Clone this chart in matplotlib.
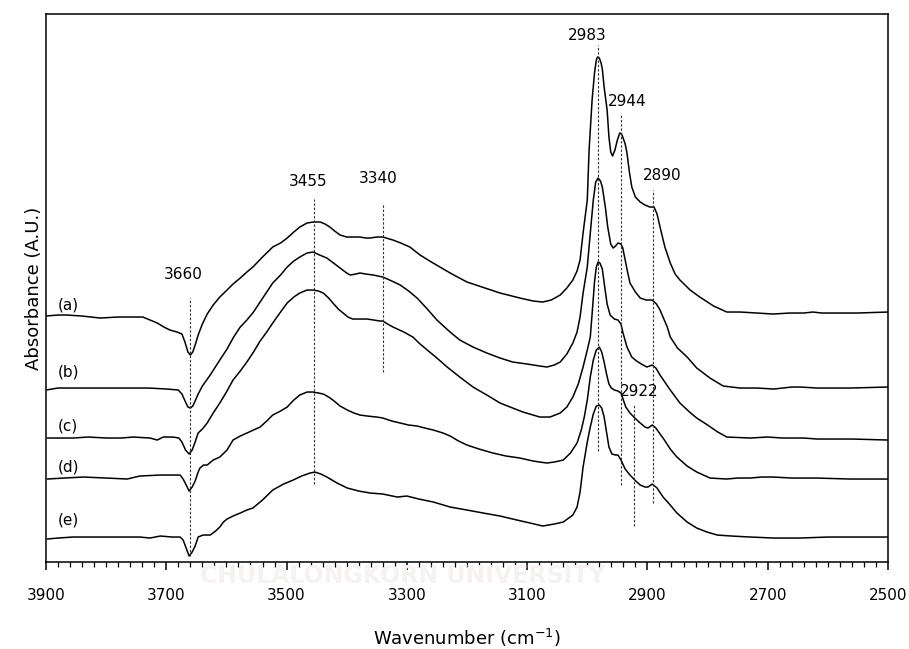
import matplotlib
matplotlib.use("Agg")
import matplotlib.pyplot as plt
from matplotlib.ticker import FixedLocator, MultipleLocator

# FTIR spectra (absorbance, arbitrary units, already offset for stacking)
wn_a = [3900, 3880, 3865, 3840, 3810, 3780, 3755, 3739, 3727, 3715, 3704, 3694, 3682, 3674,
        3669, 3664, 3660, 3656, 3652, 3647, 3640, 3632, 3622, 3611, 3599, 3589, 3577, 3566,
        3556, 3540, 3523, 3510, 3499, 3488, 3478, 3466, 3456, 3444, 3436, 3428, 3420, 3411,
        3400, 3390, 3378, 3368, 3361, 3350, 3340, 3323, 3310, 3295, 3278, 3262, 3245, 3225,
        3200, 3170, 3145, 3112, 3090, 3074, 3060, 3045, 3034, 3024, 3017, 3012, 3007, 3000,
        2997, 2992, 2988, 2985, 2983, 2980, 2977, 2975, 2972, 2967, 2964, 2961, 2958, 2954,
        2950, 2946, 2943, 2941, 2937, 2934, 2930, 2926, 2920, 2912, 2904, 2896, 2889, 2884,
        2879, 2871, 2862, 2854, 2846, 2829, 2813, 2790, 2768, 2746, 2718, 2691, 2663, 2640,
        2625, 2610, 2596, 2551, 2500]
abs_a = [2.46, 2.47, 2.47, 2.46, 2.44, 2.45, 2.45, 2.45, 2.42, 2.39, 2.35, 2.32, 2.30, 2.28,
         2.20, 2.10, 2.07, 2.10, 2.17, 2.27, 2.38, 2.48, 2.57, 2.65, 2.72, 2.78, 2.84, 2.90,
         2.95, 3.05, 3.15, 3.19, 3.24, 3.30, 3.35, 3.39, 3.40, 3.40, 3.38, 3.35, 3.31, 3.27,
         3.25, 3.25, 3.25, 3.24, 3.24, 3.25, 3.25, 3.22, 3.19, 3.15, 3.07, 3.01, 2.95, 2.88,
         2.80, 2.74, 2.69, 2.64, 2.61, 2.60, 2.62, 2.67, 2.74, 2.82, 2.91, 3.02, 3.29, 3.62,
         4.12, 4.62, 4.89, 5.02, 5.05, 5.04, 4.99, 4.93, 4.75, 4.52, 4.25, 4.10, 4.06, 4.12,
         4.22, 4.29, 4.28, 4.25, 4.18, 4.09, 3.90, 3.75, 3.65, 3.60, 3.57, 3.55, 3.55, 3.48,
         3.35, 3.15, 2.99, 2.88, 2.82, 2.72, 2.65, 2.56, 2.50, 2.50, 2.49, 2.48, 2.49, 2.49,
         2.50, 2.49, 2.49, 2.49, 2.50]

wn_b = [3900, 3880, 3860, 3840, 3810, 3780, 3755, 3730, 3699, 3680, 3674, 3668, 3664, 3660,
        3656, 3652, 3647, 3640, 3627, 3611, 3599, 3588, 3577, 3566, 3555, 3544, 3533, 3523,
        3510, 3499, 3488, 3478, 3466, 3456, 3445, 3433, 3422, 3411, 3400, 3394, 3385, 3378,
        3368, 3356, 3340, 3325, 3311, 3297, 3283, 3266, 3250, 3230, 3212, 3190, 3167, 3145,
        3124, 3100, 3079, 3067, 3055, 3045, 3034, 3024, 3017, 3012, 3007, 3000, 2995, 2990,
        2986, 2982, 2978, 2975, 2970, 2966, 2961, 2957, 2953, 2949, 2944, 2941, 2937, 2933,
        2929, 2920, 2912, 2902, 2892, 2885, 2879, 2872, 2867, 2862, 2850, 2834, 2818, 2796,
        2774, 2746, 2718, 2690, 2660, 2646, 2618, 2563, 2500]
abs_b = [1.72, 1.74, 1.74, 1.74, 1.74, 1.74, 1.74, 1.74, 1.73, 1.72, 1.68, 1.60, 1.55, 1.54,
         1.56, 1.61, 1.68, 1.76, 1.87, 2.02, 2.13, 2.25, 2.35, 2.42, 2.50, 2.60, 2.70, 2.79,
         2.87, 2.95, 3.01, 3.05, 3.09, 3.10, 3.07, 3.04, 2.99, 2.94, 2.89, 2.87, 2.88, 2.89,
         2.88, 2.87, 2.85, 2.81, 2.77, 2.71, 2.64, 2.53, 2.42, 2.31, 2.22, 2.15, 2.09, 2.04,
         2.00, 1.98, 1.96, 1.95, 1.97, 2.00, 2.08, 2.19, 2.30, 2.45, 2.69, 2.95, 3.29, 3.62,
         3.80, 3.84, 3.81, 3.75, 3.55, 3.35, 3.18, 3.14, 3.16, 3.19, 3.18, 3.14, 3.02, 2.90,
         2.79, 2.70, 2.64, 2.62, 2.62, 2.58, 2.52, 2.42, 2.35, 2.25, 2.14, 2.05, 1.94, 1.84,
         1.76, 1.74, 1.74, 1.73, 1.75, 1.75, 1.74, 1.74, 1.75]

wn_c = [3898, 3870, 3855, 3830, 3799, 3775, 3755, 3727, 3715, 3705, 3689, 3679, 3674, 3668,
        3662, 3657, 3652, 3647, 3640, 3632, 3622, 3611, 3600, 3589, 3577, 3566, 3555, 3544,
        3533, 3523, 3510, 3499, 3488, 3478, 3466, 3456, 3447, 3439, 3430, 3423, 3414, 3406,
        3398, 3390, 3378, 3366, 3355, 3345, 3340, 3332, 3323, 3305, 3290, 3278, 3266, 3250,
        3233, 3212, 3190, 3167, 3145, 3124, 3107, 3090, 3079, 3062, 3045, 3034, 3024, 3015,
        3007, 3000, 2995, 2992, 2988, 2985, 2982, 2979, 2975, 2971, 2967, 2962, 2955, 2949,
        2944, 2941, 2934, 2926, 2918, 2910, 2901, 2892, 2886, 2879, 2870, 2862, 2846, 2830,
        2818, 2800, 2783, 2768, 2729, 2701, 2675, 2640, 2618, 2560, 2500]
abs_c = [1.24, 1.24, 1.24, 1.25, 1.24, 1.24, 1.25, 1.24, 1.22, 1.25, 1.25, 1.24, 1.20, 1.12,
         1.08, 1.12, 1.20, 1.29, 1.33, 1.39, 1.49, 1.59, 1.70, 1.82, 1.91, 2.00, 2.10, 2.21,
         2.30, 2.39, 2.50, 2.59, 2.65, 2.69, 2.72, 2.72, 2.71, 2.69, 2.64, 2.59, 2.53, 2.49,
         2.45, 2.43, 2.43, 2.43, 2.42, 2.41, 2.41, 2.38, 2.35, 2.30, 2.25, 2.18, 2.12, 2.04,
         1.95, 1.85, 1.75, 1.67, 1.59, 1.54, 1.50, 1.47, 1.45, 1.45, 1.49, 1.55, 1.65, 1.78,
         1.95, 2.12, 2.25, 2.48, 2.80, 2.95, 3.00, 2.99, 2.93, 2.75, 2.58, 2.47, 2.43, 2.42,
         2.38, 2.30, 2.15, 2.05, 2.01, 1.98, 1.95, 1.97, 1.94, 1.87, 1.79, 1.72, 1.59, 1.50,
         1.44, 1.37, 1.30, 1.25, 1.24, 1.25, 1.24, 1.24, 1.23, 1.23, 1.22]

wn_d = [3898, 3870, 3838, 3800, 3765, 3744, 3710, 3690, 3677, 3672, 3666, 3662, 3657, 3652,
        3647, 3644, 3638, 3632, 3622, 3611, 3599, 3589, 3577, 3566, 3555, 3544, 3533, 3523,
        3510, 3499, 3488, 3478, 3466, 3456, 3447, 3439, 3430, 3423, 3411, 3399, 3388, 3378,
        3366, 3350, 3340, 3325, 3311, 3297, 3283, 3270, 3256, 3240, 3228, 3214, 3200, 3180,
        3157, 3135, 3112, 3090, 3079, 3067, 3055, 3040, 3028, 3017, 3010, 3005, 3000, 2995,
        2990, 2985, 2980, 2976, 2972, 2968, 2964, 2960, 2955, 2949, 2944, 2940, 2936, 2929,
        2921, 2912, 2904, 2899, 2892, 2886, 2879, 2874, 2862, 2851, 2834, 2818, 2796, 2768,
        2750, 2729, 2710, 2691, 2660, 2620, 2563, 2500]
abs_d = [0.83, 0.84, 0.85, 0.84, 0.83, 0.86, 0.87, 0.87, 0.87, 0.83, 0.76, 0.71, 0.75, 0.81,
         0.90, 0.94, 0.97, 0.97, 1.02, 1.05, 1.12, 1.22, 1.26, 1.29, 1.32, 1.35, 1.41, 1.47,
         1.51, 1.55, 1.62, 1.67, 1.70, 1.70, 1.69, 1.68, 1.65, 1.62, 1.56, 1.52, 1.49, 1.47,
         1.46, 1.45, 1.44, 1.41, 1.39, 1.37, 1.36, 1.34, 1.32, 1.29, 1.26, 1.21, 1.17, 1.13,
         1.09, 1.06, 1.04, 1.01, 1.00, 0.99, 1.00, 1.02, 1.09, 1.19, 1.32, 1.45, 1.62, 1.85,
         2.02, 2.12, 2.15, 2.10, 2.00, 1.88, 1.78, 1.74, 1.72, 1.71, 1.69, 1.62, 1.55, 1.49,
         1.44, 1.39, 1.35, 1.34, 1.37, 1.34, 1.28, 1.24, 1.13, 1.05, 0.96, 0.90, 0.84, 0.83,
         0.84, 0.84, 0.85, 0.85, 0.84, 0.84, 0.83, 0.83]

wn_e = [3898, 3880, 3855, 3830, 3810, 3780, 3760, 3744, 3727, 3710, 3690, 3677, 3672, 3667,
        3662, 3657, 3652, 3647, 3639, 3627, 3618, 3611, 3605, 3599, 3589, 3577, 3566, 3556,
        3540, 3523, 3505, 3489, 3475, 3461, 3453, 3443, 3433, 3416, 3399, 3380, 3361, 3340,
        3316, 3300, 3280, 3256, 3228, 3200, 3173, 3145, 3117, 3095, 3074, 3055, 3040, 3024,
        3017, 3012, 3007, 3000, 2995, 2990, 2985, 2980, 2976, 2972, 2968, 2964, 2959, 2953,
        2949, 2944, 2937, 2929, 2921, 2912, 2904, 2899, 2892, 2884, 2874, 2862, 2851, 2834,
        2818, 2801, 2784, 2760, 2729, 2690, 2646, 2600, 2563, 2500]
abs_e = [0.23, 0.24, 0.25, 0.25, 0.25, 0.25, 0.25, 0.25, 0.24, 0.26, 0.25, 0.25, 0.22, 0.14,
         0.06, 0.10, 0.16, 0.25, 0.27, 0.27, 0.31, 0.35, 0.40, 0.43, 0.46, 0.49, 0.52, 0.54,
         0.62, 0.72, 0.78, 0.82, 0.86, 0.89, 0.90, 0.88, 0.85, 0.79, 0.74, 0.71, 0.69, 0.68,
         0.65, 0.66, 0.63, 0.60, 0.55, 0.52, 0.49, 0.46, 0.42, 0.39, 0.36, 0.38, 0.40, 0.47,
         0.55, 0.70, 0.95, 1.20, 1.35, 1.48, 1.56, 1.57, 1.54, 1.45, 1.30, 1.15, 1.08, 1.07,
         1.07, 1.02, 0.93, 0.87, 0.82, 0.77, 0.75, 0.75, 0.78, 0.74, 0.65, 0.57, 0.49, 0.40,
         0.34, 0.30, 0.27, 0.26, 0.25, 0.24, 0.24, 0.25, 0.25, 0.25]

spectra = [("(a)", wn_a, abs_a), ("(b)", wn_b, abs_b), ("(c)", wn_c, abs_c),
           ("(d)", wn_d, abs_d), ("(e)", wn_e, abs_e)]

# sample labels at the left end of each trace
label_y = [2.57, 1.90, 1.36, 0.95, 0.42]

# band assignments: position, marker line span and label placement
band_pos = [3660, 3455, 3340, 2983, 2944, 2890, 2922]
band_lo = [0.06, 0.78, 1.90, 1.11, 0.77, 0.59, 0.36]
band_hi = [2.64, 3.63, 3.59, 5.17, 4.47, 3.72, 1.57]
band_text_x = [3672, 3464, 3348, 3000, 2934, 2876, 2914]
band_text_y = [2.88, 3.81, 3.84, 5.27, 4.61, 3.87, 1.71]

tick_vals = [3900, 3700, 3500, 3300, 3100, 2900, 2700, 2500]

fig = plt.figure(figsize=(9.09, 6.49), dpi=100)
ax = fig.add_axes([0.0506, 0.134, 0.9263, 0.8444])

for name, wn, ab in spectra:
    ax.plot(wn, ab, color="black", lw=1.1, solid_joinstyle="round", solid_capstyle="round")

for (name, _, _), ly in zip(spectra, label_y):
    ax.text(3863, ly, name, fontsize=11, ha="center", va="center")

for pos, lo, hi, tx, ty in zip(band_pos, band_lo, band_hi, band_text_x, band_text_y):
    ax.plot([pos, pos], [lo, hi], color="#333333", lw=0.8, linestyle=(0, (2.2, 1.6)))
    ax.text(tx, ty, str(pos), fontsize=11, ha="center", va="center")

ax.set_xlim(3900, 2500)
ax.set_ylim(0, 5.48)
ax.xaxis.set_major_locator(FixedLocator(tick_vals))
ax.xaxis.set_minor_locator(MultipleLocator(20))
ax.tick_params(axis="x", which="major", direction="out", length=6, width=1.1, pad=13,
               labelsize=11)
ax.tick_params(axis="x", which="minor", direction="out", length=3.6, width=0.9)
ax.set_yticks([])
for sp in ax.spines.values():
    sp.set_linewidth(1.1)

ax.set_xlabel("Wavenumber (cm$^{-1}$)", fontsize=13, labelpad=17)
ax.set_ylabel("Absorbance (A.U.)", fontsize=13, labelpad=2)

fig.text(0.443, 0.112, "CHULALONGKORN UNIVERSITY", fontsize=17, fontweight="bold",
         color="#f6f2f2", ha="center", va="center", zorder=0)

fig.savefig("out.png", dpi=100)
